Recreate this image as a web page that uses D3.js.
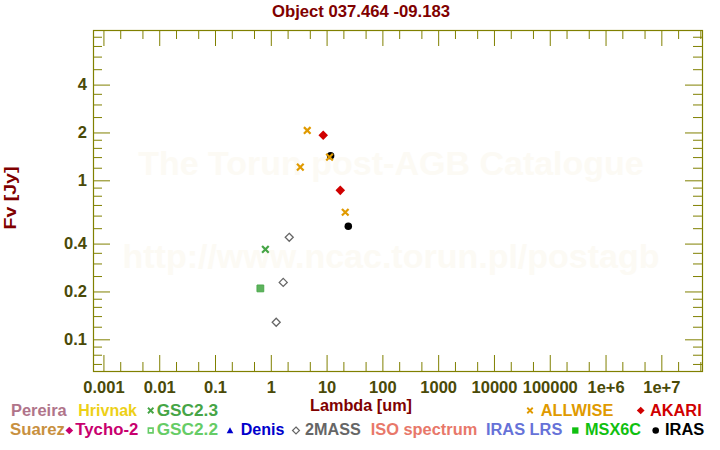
<!DOCTYPE html>
<html><head><meta charset="utf-8">
<script src="https://cdn.jsdelivr.net/npm/d3@7"></script>
<style>body{margin:0;background:#fff}svg{display:block;font-family:"Liberation Sans",Arial,Helvetica,sans-serif}</style>
</head><body><svg id="c" width="720" height="450"></svg>
<script>
// ---------- data ----------
const xTickValues = [1e-3, 1e-2, 1e-1, 1, 10, 100, 1000, 1e4, 1e5, 1e6, 1e7];
const xTickLabels = ["0.001","0.01","0.1","1","10","100","1000","10000","100000","1e+6","1e+7"];
const xMinorTicks = [2e-3,5e-3,2e-2,5e-2,0.2,0.5,2,5,20,50,200,500,2e3,5e3,2e4,5e4,2e5,5e5,2e6,5e6,2e7,5e7];
const yTickValues = [0.1, 0.2, 0.4, 1, 2, 4];
const yTickLabels = ["0.1","0.2","0.4","1","2","4"];
const yMinorTicks = [0.07,0.08,0.09,0.12,0.14,0.16,0.18,0.25,0.3,0.35,0.5,0.6,0.7,0.8,0.9,1.2,1.4,1.6,1.8,2.5,3,3.5,5,6,7,8];

const irasLambda = [11.8, 24.5];
const irasFlux = [1.43, 0.514];
const akariLambda = [8.7, 17.6];
const akariFlux = [1.92, 0.865];
const allwiseLambda = [3.38, 4.5, 11.3, 21.6];
const allwiseFlux = [1.21, 2.06, 1.40, 0.63];
const gsc23Lambda = [0.80];
const gsc23Flux = [0.368];
const gsc22Lambda = [0.65];
const gsc22Flux = [0.209];
const twomassLambda = [1.25, 1.67, 2.14];
const twomassFlux = [0.128, 0.228, 0.438];

const legendNames = ["Pereira","Hrivnak","GSC2.3","ALLWISE","AKARI","Suarez","Tycho-2","GSC2.2","Denis","2MASS","ISO spectrum","IRAS LRS","MSX6C","IRAS"];

// ---------- styles / layout ----------
const legendColors = ["#B0748A","#EDD017","#46A546","#E09A00","#D00000","#C89040","#C8006E","#66CC66","#0000CC","#666666","#E8786A","#6672D8","#10C010","#000000"];
const legendSymbols = [null,null,"x",  "x","diamond", null,"diamond","osquare","triangle","odiamond",null,null,"square","circle"];
// [symbolX, textX, textWidth, row]
const legendLayout = [
  [null,11,55.7,0],[null,78.3,58.7,0],[150.7,156.7,61.3,0],[530,540.7,72.6,0],[640.7,650,51.7,0],
  [null,10,55,1],[69.3,75.3,63,1],[150.7,156.7,61.3,1],[230,240.7,43.6,1],[296,305,55.7,1],
  [null,370.7,106.6,1],[null,486,76.3,1],[575.3,585,56,1],[655.7,665,39.3,1]
];

const OLIVE = "#808000", TICKTXT = "#4A4A08", DARKRED = "#800000";
const L = 93, R = 702, T = 30, B = 371;

const svg = d3.select("#c");
const x = d3.scaleLog().domain([Math.pow(10,-3.187), Math.pow(10,7.729)]).range([L, R]);
const y = d3.scaleLog().domain([0.0632, 8.82]).range([B, T]);

// custom symbols
const diamondSq = {draw(p, s){const r=Math.sqrt(s/2);p.moveTo(0,-r);p.lineTo(r,0);p.lineTo(0,r);p.lineTo(-r,0);p.closePath();}};
const squareT = {draw(p, s){const r=Math.sqrt(s)/2;p.moveTo(-r,-r);p.lineTo(r,-r);p.lineTo(r,r);p.lineTo(-r,r);p.closePath();}};
const timesT = {draw(p, s){const r=Math.sqrt(s)/2;p.moveTo(-r,-r);p.lineTo(r,r);p.moveTo(-r,r);p.lineTo(r,-r);}};
const triT = {draw(p, s){const r=Math.sqrt(s)/2;p.moveTo(0,-r);p.lineTo(r,r*0.8);p.lineTo(-r,r*0.8);p.closePath();}};

// watermark
const wm = svg.append("g").attr("fill","#FCFAF4").attr("font-weight","bold").attr("text-anchor","middle").attr("font-size","34px");
wm.append("text").attr("x",391).attr("y",175).text("The Torun post-AGB Catalogue");
wm.append("text").attr("x",391).attr("y",268).text("http://www.ncac.torun.pl/postagb");

// title
svg.append("text").attr("x",361).attr("y",17).attr("text-anchor","middle")
  .attr("font-size","16.5px").attr("font-weight","bold").attr("fill",DARKRED)
  .attr("textLength",178).attr("lengthAdjust","spacingAndGlyphs")
  .text("Object 037.464 -09.183");

// axes
function styleAxis(g){
  g.select(".domain").remove();
  g.selectAll(".tick line").attr("stroke",OLIVE);
  g.selectAll("text").attr("fill",TICKTXT).attr("font-size","16.5px").attr("font-weight","bold")
    .attr("font-family","'Liberation Sans',Arial,sans-serif");
}
const ax = svg.append("g");
ax.append("g").attr("transform",`translate(0,${B})`)
  .call(d3.axisBottom(x).tickValues(xTickValues).tickSize(-16).tickPadding(10).tickFormat((d,i)=>xTickLabels[i])).call(styleAxis);
ax.append("g").attr("transform",`translate(0,${B})`)
  .call(d3.axisBottom(x).tickValues(xMinorTicks.filter(v=>v<x.domain()[1])).tickSize(-9).tickFormat("")).call(styleAxis);
ax.append("g").attr("transform",`translate(0,${T})`)
  .call(d3.axisTop(x).tickValues(xTickValues).tickSize(-16).tickFormat("")).call(styleAxis);
ax.append("g").attr("transform",`translate(0,${T})`)
  .call(d3.axisTop(x).tickValues(xMinorTicks.filter(v=>v<x.domain()[1])).tickSize(-9).tickFormat("")).call(styleAxis);
ax.append("g").attr("transform",`translate(${L},0)`)
  .call(d3.axisLeft(y).tickValues(yTickValues).tickSize(-17).tickPadding(6).tickFormat((d,i)=>yTickLabels[i])).call(styleAxis);
ax.append("g").attr("transform",`translate(${L},0)`)
  .call(d3.axisLeft(y).tickValues(yMinorTicks).tickSize(-9).tickFormat("")).call(styleAxis);
ax.append("g").attr("transform",`translate(${R},0)`)
  .call(d3.axisRight(y).tickValues(yTickValues).tickSize(-17).tickFormat("")).call(styleAxis);
ax.append("g").attr("transform",`translate(${R},0)`)
  .call(d3.axisRight(y).tickValues(yMinorTicks).tickSize(-9).tickFormat("")).call(styleAxis);
svg.append("rect").attr("x",L+0.5).attr("y",T+0.5).attr("width",R-L).attr("height",B-T)
  .attr("fill","none").attr("stroke",OLIVE).attr("stroke-width",1.2);

// axis labels
svg.append("text").attr("x",361).attr("y",411).attr("text-anchor","middle")
  .attr("font-size","16px").attr("font-weight","bold").attr("fill",DARKRED)
  .attr("textLength",102).attr("lengthAdjust","spacingAndGlyphs").text("Lambda [um]");
svg.append("text").attr("transform","translate(16,198) rotate(-90)").attr("text-anchor","middle")
  .attr("font-size","16px").attr("font-weight","bold").attr("fill",DARKRED)
  .attr("textLength",63).attr("lengthAdjust","spacingAndGlyphs").text("Fv [Jy]");

// data points
function pts(lam, flux){ return lam.map((l,i)=>({l, f: flux[i]})); }
const plot = svg.append("g");
function drawSeries(data, type, size, fill, stroke, sw){
  plot.append("g").selectAll("path").data(data).join("path")
    .attr("transform", d=>`translate(${x(d.l)},${y(d.f)})`)
    .attr("d", d3.symbol().type(type).size(size))
    .attr("fill", fill).attr("stroke", stroke).attr("stroke-width", sw);
}
drawSeries(pts(irasLambda, irasFlux), d3.symbolCircle, 44, "#000", "none", 0);
drawSeries(pts(akariLambda, akariFlux), diamondSq, 46, "#D00000", "none", 0);
drawSeries(pts(allwiseLambda, allwiseFlux), timesT, 44, "none", "#E09A00", 2.2);
drawSeries(pts(gsc23Lambda, gsc23Flux), timesT, 44, "none", "#46A546", 2.2);
drawSeries(pts(gsc22Lambda, gsc22Flux), squareT, 46, "#5DB35D", "#4CA84C", 1);
drawSeries(pts(twomassLambda, twomassFlux), diamondSq, 32, "none", "#666666", 1.3);

// legend
const lg = svg.append("g").attr("font-size","16px").attr("font-weight","bold");
const rowY = [415.5, 435];
const symY = [410.5, 430.5];
legendNames.forEach((name,i)=>{
  const [sx, tx, tw, row] = legendLayout[i];
  const col = legendColors[i];
  lg.append("text").attr("x",tx).attr("y",rowY[row]).attr("fill",col)
    .attr("textLength",tw).attr("lengthAdjust","spacingAndGlyphs").text(name);
  const s = legendSymbols[i];
  if(!s) return;
  const g = lg.append("path").attr("transform",`translate(${sx},${symY[row]})`);
  if(s==="x") g.attr("d", d3.symbol().type(timesT).size(30)).attr("fill","none").attr("stroke",col).attr("stroke-width",1.8);
  else if(s==="diamond") g.attr("d", d3.symbol().type(diamondSq).size(30)).attr("fill",col);
  else if(s==="odiamond") g.attr("d", d3.symbol().type(diamondSq).size(24)).attr("fill","none").attr("stroke",col).attr("stroke-width",1.2);
  else if(s==="osquare") g.attr("d", d3.symbol().type(squareT).size(22)).attr("fill","none").attr("stroke",col).attr("stroke-width",1.6);
  else if(s==="square") g.attr("d", d3.symbol().type(squareT).size(40)).attr("fill",col);
  else if(s==="triangle") g.attr("d", d3.symbol().type(triT).size(44)).attr("fill",col);
  else if(s==="circle") g.attr("d", d3.symbol().type(d3.symbolCircle).size(34)).attr("fill",col);
});
</script></body></html>
